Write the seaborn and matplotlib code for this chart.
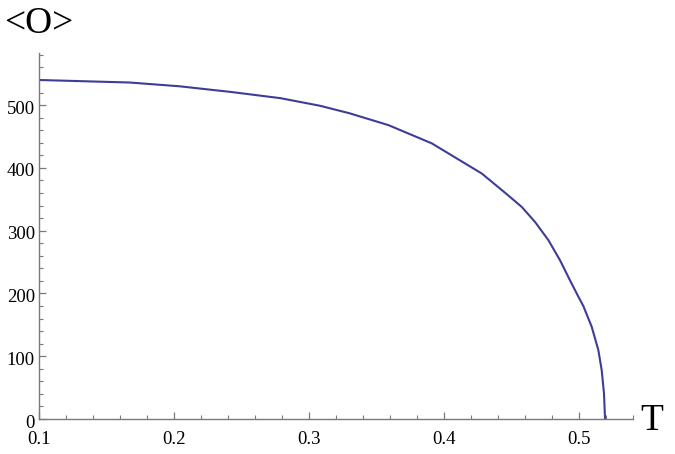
import numpy as np
import pandas as pd
import seaborn as sns
import matplotlib.pyplot as plt
import matplotlib.transforms as mtransforms
from matplotlib.ticker import MultipleLocator

# ── data ────────────────────────────────────────────────────────────────────
temps = [0.100, 0.167, 0.204, 0.242, 0.279, 0.308, 0.330, 0.359, 0.391,
         0.428, 0.446, 0.4575, 0.4674, 0.4773, 0.4859, 0.4933, 0.4995,
         0.5032, 0.5094, 0.5143, 0.5168, 0.5185, 0.5193]
order = [540, 536, 530, 521, 511, 499, 487, 468, 439,
         391, 359, 338, 314, 285, 253, 221, 195,
         180, 147, 110, 78, 41, 0]

x_major = [0.1, 0.2, 0.3, 0.4, 0.5]
y_major = [0, 100, 200, 300, 400, 500]

# ── appearance ──────────────────────────────────────────────────────────────
sns.set_style("ticks")
plt.rcParams["font.family"] = ["Liberation Serif", "DejaVu Serif"]
plt.rcParams["text.color"] = "black"
LINE_COLOR = "#3d3d99"
AXIS_COLOR = "#7a7a7a"

df = pd.DataFrame({"T": temps, "O": order})

fig = plt.figure(figsize=(6.75, 4.54), dpi=100)
ax = fig.add_axes([39 / 675, 1 - 419 / 454, (633 - 39) / 675, (419 - 53) / 454])

sns.lineplot(data=df, x="T", y="O", sort=False, color=LINE_COLOR,
             linewidth=1.5, ax=ax)

ax.set_xlim(0.1, 0.54)
ax.set_ylim(0, 583)
ax.set_xticks(x_major)
ax.set_xticklabels([f"{v:.1f}" for v in x_major])
ax.set_yticks(y_major)
ax.set_yticklabels([str(v) for v in y_major])
ax.xaxis.set_minor_locator(MultipleLocator(0.02))
ax.yaxis.set_minor_locator(MultipleLocator(20))

for side in ("top", "right"):
    ax.spines[side].set_visible(False)
for side in ("left", "bottom"):
    ax.spines[side].set_color(AXIS_COLOR)
    ax.spines[side].set_linewidth(1.0)

ax.tick_params(which="major", direction="in", length=5, width=0.9,
               color=AXIS_COLOR, labelsize=13.5, labelcolor="black")
ax.tick_params(which="minor", direction="in", length=3, width=0.8,
               color=AXIS_COLOR)
ax.tick_params(axis="x", pad=9)
ax.tick_params(axis="y", pad=3)

# y labels sit a little below their ticks in the reference
shift = mtransforms.ScaledTranslation(0, -2 / 100, fig.dpi_scale_trans)
for lab in ax.get_yticklabels():
    lab.set_transform(lab.get_transform() + shift)

ax.set_xlabel("")
ax.set_ylabel("")
fig.text(4 / 675, 1 - 24 / 454, "<O>", fontsize=27, color="black",
         va="center", ha="left")
fig.text(640 / 675, 1 - 421 / 454, "T", fontsize=27, color="black",
         va="center", ha="left")

fig.savefig("out.png", dpi=100)
